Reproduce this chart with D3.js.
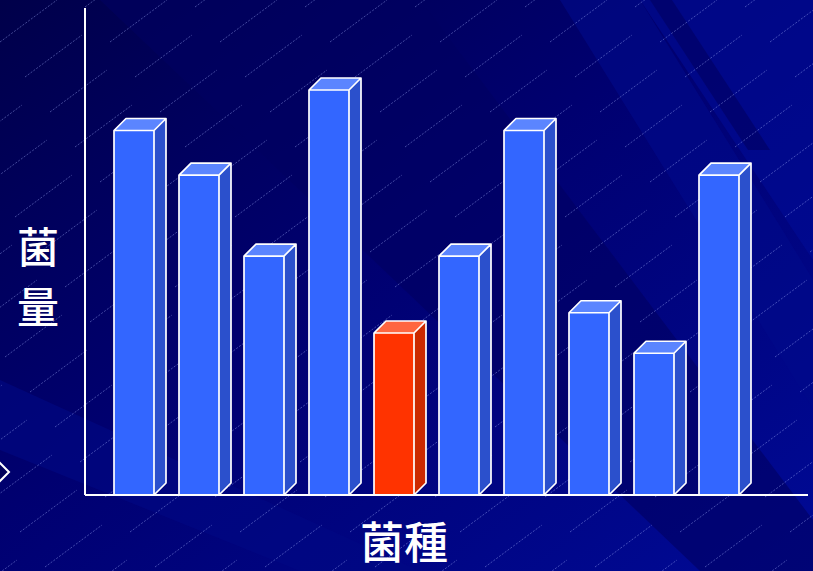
<!DOCTYPE html>
<html><head><meta charset="utf-8">
<script src="https://cdn.jsdelivr.net/npm/d3@7"></script>
<style>html,body{margin:0;padding:0;background:#00006e;overflow:hidden}</style>
</head><body>
<svg id="c" width="813" height="571"></svg>
<script>
const categories = ["A","B","C","D","E","F","G","H","I","J"];
const values = [9, 7.9, 5.9, 10, 4, 5.9, 9, 4.5, 3.5, 7.9];
const highlight = ["E"];
const yLabel = ["菌","量"];
const xLabel = "菌種";

const W = 813, H = 571;
const svg = d3.select("#c");
const defs = svg.append("defs");
const g0 = defs.append("linearGradient").attr("id","bg").attr("x1","0").attr("y1","0").attr("x2","1").attr("y2","1");
g0.append("stop").attr("offset","0").attr("stop-color","#00004a");
g0.append("stop").attr("offset","0.45").attr("stop-color","#000070");
g0.append("stop").attr("offset","1").attr("stop-color","#000a96");
svg.append("rect").attr("width",W).attr("height",H).attr("fill","url(#bg)");

// diagonal bands (decoration)
const bands = [
  [[640,0],[813,0],[813,260]],
  [[560,0],[640,0],[900,420],[820,420]],
  [[100,0],[420,0],[813,520],[813,571],[700,571]],
  [[0,380],[0,450],[300,571],[420,571]],
  [[650,0],[672,0],[770,150],[748,150]]
];
const bandFill = ["#000c96","#000a8a","#000060","#000884","#000060"];
svg.append("g").selectAll("path").data(bands).join("path")
  .attr("d", d => "M" + d.join("L") + "Z")
  .attr("fill",(d,i)=>bandFill[i]).attr("opacity",0.6);

// thin diagonal lines (decoration)
const deco = svg.append("g").attr("stroke","#a8b8ff").attr("stroke-opacity",0.45).attr("stroke-width",0.9).attr("stroke-dasharray","2,1.5");
for (let r = -14; r < 22; r++) {
  for (let c = -4; c < 10; c++) {
    const xx = c*110 + r*25;
    const yy = r*35;
    deco.append("line").attr("x1",xx).attr("y1",yy+42).attr("x2",xx+57).attr("y2",yy);
  }
}

const y0 = 495, xAxisL = 85, xAxisR = 808, yTop = 8;
const x = d3.scaleBand().domain(categories).range([101.5, 751.5]).paddingInner(25/65).paddingOuter(12.5/65);
const y = d3.scaleLinear().domain([0, 12]).range([y0, y0 - 486]);
const dx = 12, dy = 12;

const bars = svg.append("g").selectAll("g").data(categories).join("g");
bars.each(function(c, i) {
  const g = d3.select(this);
  const bw = x.bandwidth();
  const L = x(c), R = L + bw, T = y(values[i]), B = y(0);
  const red = highlight.includes(c);
  const front = red ? "#ff3300" : "#3366ff";
  const top = red ? "#ff6640" : "#5b85ff";
  const side = red ? "#cc2900" : "#2b50cc";
  g.append("path").attr("d",`M${R},${T}L${R+dx},${T-dy}L${R+dx},${B-dy}L${R},${B}Z`).attr("fill",side);
  g.append("path").attr("d",`M${L},${T}L${L+dx},${T-dy}L${R+dx},${T-dy}L${R},${T}Z`).attr("fill",top);
  g.append("rect").attr("x",L).attr("y",T).attr("width",bw).attr("height",B-T).attr("fill",front);
  g.append("path").attr("d",`M${L},${B}L${L},${T}L${L+dx},${T-dy}L${R+dx},${T-dy}L${R+dx},${B-dy}L${R},${B}ZM${L},${T}L${R},${T}L${R+dx},${T-dy}M${R},${T}L${R},${B}`)
    .attr("fill","none").attr("stroke","#ffffff").attr("stroke-width",1.7).attr("stroke-linejoin","round");
});

// axes
const ax = svg.append("g").attr("stroke","#ffffff").attr("stroke-width",2);
ax.append("line").attr("x1",xAxisL).attr("y1",yTop).attr("x2",xAxisL).attr("y2",y0);
ax.append("line").attr("x1",xAxisL).attr("y1",y0).attr("x2",xAxisR).attr("y2",y0);

// diamond at left edge
svg.append("path").attr("d","M0,463L9,472L0,481L-9,472Z").attr("fill","#00005a").attr("stroke","#fff").attr("stroke-width",2);

const font = "'Noto Sans CJK TC','Noto Sans CJK SC',sans-serif";
svg.append("g").selectAll("text").data(yLabel).join("text")
  .attr("x",38).attr("y",(d,i)=>263 + i*60).attr("text-anchor","middle")
  .attr("font-family",font).attr("font-size",42).attr("font-weight",500).attr("fill","#fff").text(d=>d);
svg.append("text").attr("x",404).attr("y",559).attr("text-anchor","middle")
  .attr("font-family",font).attr("font-size",44).attr("font-weight",500).attr("fill","#fff").text(xLabel);
</script>
</body></html>
